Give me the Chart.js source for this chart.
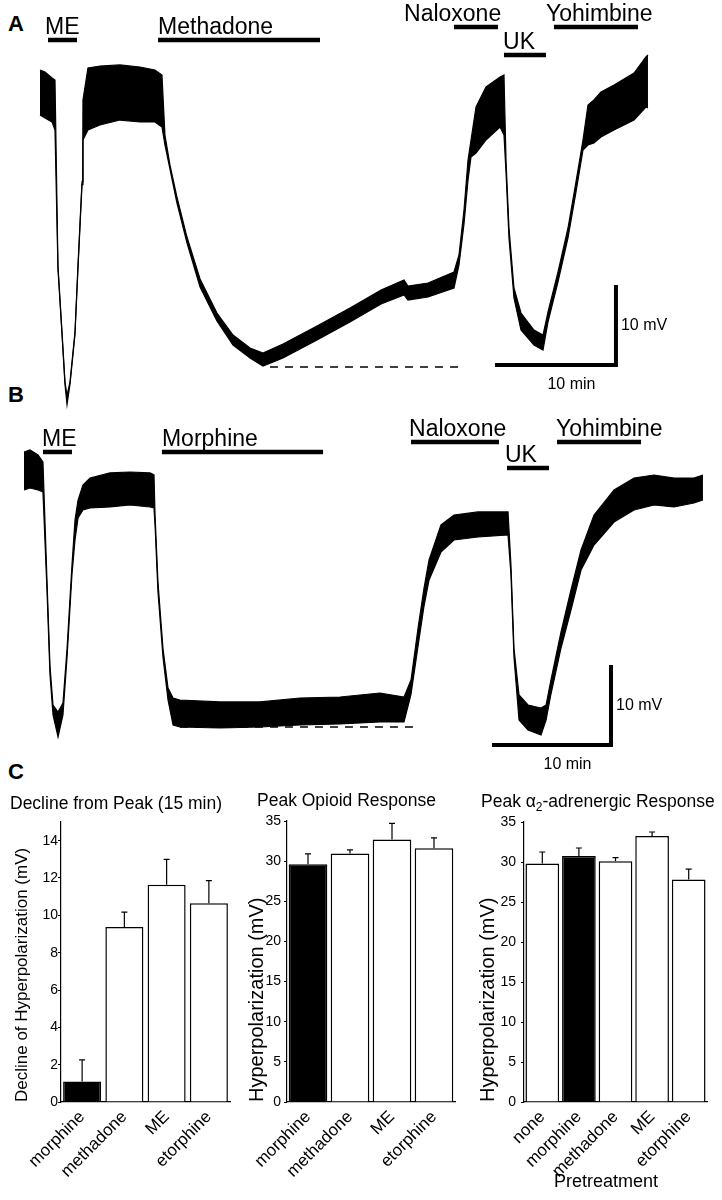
<!DOCTYPE html>
<html>
<head>
<meta charset="utf-8">
<title>Opioid and alpha2-adrenergic hyperpolarization</title>
<script src="https://cdn.jsdelivr.net/npm/chart.js@4.4.1/dist/chart.umd.min.js"></script>
<style>
  html, body { margin: 0; padding: 0; background: #fff; }
  body { position: relative; width: 722px; height: 1200px; overflow: hidden; }
  canvas { position: absolute; }
  .panel { position: absolute; left: 8px; font: bold 22px/22px "Liberation Sans", Arial, sans-serif; color: #000; }
</style>
</head>
<body>
<div class="panel" style="top:13px">A</div>
<div class="panel" style="top:384px">B</div>
<div class="panel" style="top:761px">C</div>
<canvas id="traceA" width="722" height="410" style="left:0;top:0"></canvas>
<canvas id="traceB" width="722" height="400" style="left:0;top:380px"></canvas>
<canvas id="declineChart" width="240" height="410" style="left:0;top:790px"></canvas>
<canvas id="opioidChart" width="230" height="410" style="left:240px;top:790px"></canvas>
<canvas id="alphaChart" width="252" height="410" style="left:470px;top:790px"></canvas>
<script>
// ---- A: methadone recording (time in min, membrane potential in mV relative to baseline)
// upper / lower edges of the noise band
const traceATime = [0, 0.42, 1.01, 1.26, 1.51, 1.85, 2.10, 2.27, 2.52, 2.94, 3.19, 3.53, 3.61, 4.03, 5.04,
  6.72, 8.40, 9.66, 10.25, 10.50, 10.92, 11.51, 12.35, 13.45, 14.87, 16.22, 17.65, 18.74, 20.42, 23.28,
  26.05, 28.66, 30.59, 30.92, 32.61, 34.79, 35.21, 35.63, 35.97, 36.22, 36.64, 37.48, 38.66, 38.99, 39.16,
  39.41, 39.83, 40.42, 41.51, 42.27, 42.69, 43.53, 44.37, 45.04, 45.63, 46.05, 46.55, 47.14, 48.24, 49.92,
  50.92, 51.09];
const traceAUpper = [3.21, 2.95, 2.18, 1.92, -21.9, -30.4, -36.8, -38.5, -36.8, -30.4, -21.9, -11.1, -0.64, 3.46, 3.72,
  3.85, 3.59, 3.21, 2.56, -5.13, -8.97, -13.08, -18.21, -23.59, -27.95, -30.77, -32.44, -33.08, -31.92, -29.62,
  -27.31, -25.00, -23.72, -24.49, -24.10, -22.69, -20.51, -14.74, -8.33, -5.77, -1.54, 1.03, 2.31, 2.56, -8.33,
  -17.05, -24.74, -27.95, -30.13, -30.77, -27.82, -22.69, -17.05, -11.15, -5.77, -1.28, -0.64, 0.38, 1.28, 2.82,
  4.87, 5.13];
const traceALower = [-2.56, -2.95, -3.46, -4.49, -22.3, -30.7, -37.1, -39.7, -37.1, -30.7, -22.3, -11.5, -5.77, -4.49, -3.85,
  -3.21, -3.46, -3.46, -4.10, -6.41, -9.49, -13.85, -18.97, -24.62, -28.97, -32.05, -33.72, -34.74, -33.72, -31.41,
  -29.10, -26.79, -25.64, -26.28, -25.90, -24.74, -21.79, -16.54, -10.90, -7.95, -7.44, -5.77, -4.10, -5.13, -9.87,
  -18.33, -26.03, -30.13, -32.05, -32.69, -29.10, -23.97, -18.33, -12.44, -7.05, -6.41, -6.15, -5.38, -4.49, -3.21,
  -1.54, -1.67];
const peakLineATime = [19.33, 35.71];
const peakLineAVolt = [-34.87, -34.87];
const drugNamesA = ['ME', 'Methadone', 'Naloxone', 'UK', 'Yohimbine'];
const drugStartA = [0.67, 9.92, 34.79, 38.99, 43.19];
const drugEndA = [3.11, 23.53, 38.49, 42.52, 50.25];
const drugLevelA = [7.05, 7.05, 8.72, 5.13, 8.72];
const drugLabelAtA = [0.42, 9.92, 30.59, 38.91, 42.52];
const scaleBarATime = [38.40, 48.40, 48.40];
const scaleBarAVolt = [-34.62, -34.62, -24.62];

// ---- B: morphine recording
const traceBTime = [0, 0.51, 1.20, 1.62, 1.97, 2.22, 2.48, 2.91, 3.33, 3.68, 4.10, 4.36, 4.62, 5.04,
  5.64, 7.35, 9.06, 10.77, 11.11, 11.20, 11.45, 11.88, 12.31, 12.74, 13.33, 16.75, 20.17, 23.59, 27.01,
  30.43, 32.48, 33.08, 33.68, 34.19, 34.62, 35.64, 36.75, 38.80, 41.37, 41.62, 41.88, 42.31, 43.08, 44.19,
  44.62, 45.04, 45.90, 46.75, 47.61, 48.72, 50.43, 52.14, 53.85, 55.56, 57.26, 58.03];
const traceBUpper = [2.31, 2.56, 1.92, 1.03, -14.4, -25.1, -30.13, -31.03, -29.87, -22.9, -12.2, -6.41, -3.85, -1.92,
  -1.03, -0.38, -0.26, -0.38, -0.64, -5.77, -14.4, -22.9, -27.95, -29.23, -29.49, -29.74, -29.74, -29.23, -29.10,
  -28.59, -29.10, -26.92, -20.26, -15.13, -11.54, -7.05, -5.77, -5.38, -5.38, -12.2, -22.9, -28.85, -30.13, -30.51,
  -30.13, -26.92, -20.77, -15.38, -10.26, -5.77, -2.56, -1.03, -0.64, -1.03, -1.03, -0.64];
const traceBLower = [-2.56, -2.31, -2.56, -2.82, -15.6, -26.2, -31.4, -34.23, -31.41, -24.0, -13.4, -8.97, -6.15, -5.13,
  -4.87, -4.74, -4.49, -4.74, -4.87, -7.05, -15.6, -24.0, -29.49, -32.69, -32.95, -33.08, -32.95, -32.69, -32.56,
  -32.31, -32.31, -28.72, -22.56, -17.44, -14.10, -10.51, -8.97, -8.59, -8.33, -13.4, -24.0, -32.05, -33.33, -33.97,
  -32.05, -28.72, -22.82, -17.95, -12.82, -9.62, -6.67, -5.13, -4.49, -4.74, -4.23, -3.85];
const peakLineBTime = [13.33, 33.42];
const peakLineBVolt = [-32.95, -32.95];
const drugNamesB = ['ME', 'Morphine', 'Naloxone', 'UK', 'Yohimbine'];
const drugStartB = [1.62, 11.79, 33.08, 41.28, 45.56];
const drugEndB = [4.10, 25.56, 40.60, 44.87, 52.74];
const drugLevelB = [2.31, 2.31, 3.59, 0.26, 3.59];
const drugLabelAtB = [1.54, 11.79, 32.91, 41.11, 45.47];
const scaleBarBTime = [40.17, 50.17, 50.17];
const scaleBarBVolt = [-35.26, -35.26, -25.26];

// ---- C: summary bars (mean and SEM, mV)
const declineLabels = ['morphine', 'methadone', 'ME', 'etorphine'];
const declineMeans = [1.1, 9.37, 11.64, 10.65];
const declineSem = [1.16, 0.8, 1.36, 1.21];
const opioidLabels = ['morphine', 'methadone', 'ME', 'etorphine'];
const opioidMeans = [29.6, 30.95, 32.7, 31.6];
const opioidSem = [1.3, 0.45, 2.0, 1.3];
const alphaLabels = ['none', 'morphine', 'methadone', 'ME', 'etorphine'];
const alphaMeans = [29.8, 30.75, 30.1, 33.25, 27.8];
const alphaSem = [1.45, 1.0, 0.45, 0.5, 1.3];

const FONT = '"Liberation Sans", Arial, Helvetica, sans-serif';
Chart.defaults.font.family = FONT;
Chart.defaults.color = '#000';

const pts = (xs, ys) => xs.map((x, i) => ({ x, y: ys[i] }));

// drug names, scale bar captions
const traceTextPlugin = {
  id: 'traceText',
  afterDraw(chart, args, o) {
    const { ctx, scales: { x, y } } = chart;
    ctx.save();
    ctx.fillStyle = '#000';
    ctx.font = '23px ' + FONT;
    ctx.textAlign = 'left';
    ctx.textBaseline = 'alphabetic';
    o.names.forEach((name, i) => {
      ctx.fillText(name, x.getPixelForValue(o.labelAt[i]), y.getPixelForValue(o.level[i]) - 6);
    });
    const bt = o.barT, bv = o.barV;
    ctx.font = '16px ' + FONT;
    ctx.textBaseline = 'middle';
    ctx.fillText('10 mV', x.getPixelForValue(bt[2]) + 5, y.getPixelForValue((bv[1] + bv[2]) / 2));
    ctx.textAlign = 'center';
    ctx.textBaseline = 'alphabetic';
    ctx.fillText('10 min', x.getPixelForValue((bt[0] + bt[1]) / 2) + 15, y.getPixelForValue(bv[0]) + 24);
    ctx.restore();
  }
};

function makeTrace(id, d) {
  const line = { borderColor: '#000', pointRadius: 0, fill: false, tension: 0 };
  const datasets = [
    { ...line, data: pts(d.time, d.upper), borderWidth: 1.2 },
    { ...line, data: pts(d.time, d.lower), borderWidth: 1.2, fill: '-1', backgroundColor: '#000' },
    { ...line, data: pts(d.peakT, d.peakV), borderWidth: 1.6, borderDash: [8, 7] },
    { ...line, data: pts(d.barT, d.barV), borderWidth: 4, borderJoinStyle: 'miter', borderCapStyle: 'square' }
  ];
  d.names.forEach((n, i) => {
    datasets.push({ ...line, data: pts([d.start[i], d.end[i]], [d.level[i], d.level[i]]), borderWidth: 4.5, borderCapStyle: 'butt' });
  });
  new Chart(document.getElementById(id), {
    type: 'line',
    data: { datasets },
    options: {
      animation: false, responsive: false, devicePixelRatio: 1,
      layout: { padding: 0 },
      plugins: {
        legend: { display: false }, tooltip: { enabled: false },
        traceText: { names: d.names, labelAt: d.labelAt, level: d.level, barT: d.barT, barV: d.barV }
      },
      scales: {
        x: { type: 'linear', display: false, min: d.xMin, max: d.xMax },
        y: { display: false, min: d.yMin, max: d.yMax }
      }
    },
    plugins: [traceTextPlugin]
  });
}

makeTrace('traceA', {
  time: traceATime, upper: traceAUpper, lower: traceALower,
  peakT: peakLineATime, peakV: peakLineAVolt, barT: scaleBarATime, barV: scaleBarAVolt,
  names: drugNamesA, start: drugStartA, end: drugEndA, level: drugLevelA, labelAt: drugLabelAtA,
  xMin: -3.361, xMax: 57.311, yMin: -40.385, yMax: 12.179
});
makeTrace('traceB', {
  time: traceBTime, upper: traceBUpper, lower: traceBLower,
  peakT: peakLineBTime, peakV: peakLineBVolt, barT: scaleBarBTime, barV: scaleBarBVolt,
  names: drugNamesB, start: drugStartB, end: drugEndB, level: drugLevelB, labelAt: drugLabelAtB,
  xMin: -2.051, xMax: 59.658, yMin: -39.744, yMax: 11.538
});

// SEM whiskers above each bar, plus titles
const barExtrasPlugin = {
  id: 'barExtras',
  afterDatasetsDraw(chart, args, o) {
    const ctx = chart.ctx;
    const y = chart.scales.y;
    const meta = chart.getDatasetMeta(0);
    const means = chart.data.datasets[0].data;
    ctx.save();
    ctx.strokeStyle = '#000';
    ctx.lineWidth = 1.2;
    meta.data.forEach((bar, i) => {
      const top = y.getPixelForValue(means[i] + o.sem[i]);
      ctx.beginPath();
      ctx.moveTo(bar.x, bar.y);
      ctx.lineTo(bar.x, top);
      ctx.moveTo(bar.x - 3, top);
      ctx.lineTo(bar.x + 3, top);
      ctx.stroke();
    });
    ctx.fillStyle = '#000';
    ctx.textBaseline = 'alphabetic';
    ctx.textAlign = 'left';
    ctx.font = '17.5px ' + FONT;
    let tx = o.titleX;
    o.title.forEach(part => {
      if (part.sub) {
        ctx.font = '12px ' + FONT;
        ctx.fillText(part.text, tx, o.titleY + 4);
        tx += ctx.measureText(part.text).width;
        ctx.font = '17.5px ' + FONT;
      } else {
        ctx.fillText(part.text, tx, o.titleY);
        tx += ctx.measureText(part.text).width;
      }
    });
    if (o.xTitle) {
      ctx.font = '18px ' + FONT;
      ctx.textAlign = 'center';
      ctx.fillText(o.xTitle, o.xTitleX, o.xTitleY);
    }
    ctx.restore();
  }
};

function makeBars(id, labels, means, sem, g) {
  const canvas = document.getElementById(id);
  new Chart(canvas, {
    type: 'bar',
    data: {
      labels,
      datasets: [{
        data: means,
        backgroundColor: labels.map(l => l === 'morphine' ? '#000' : '#fff'),
        borderColor: '#000',
        borderWidth: 1.5,
        categoryPercentage: 1,
        barPercentage: g.barPct
      }]
    },
    options: {
      animation: false, responsive: false, devicePixelRatio: 1,
      layout: { padding: { left: 0, top: g.top, right: canvas.width - g.right, bottom: 0 } },
      plugins: {
        legend: { display: false }, tooltip: { enabled: false },
        barExtras: { sem, title: g.title, titleX: g.titleX, titleY: g.titleY, xTitle: g.xTitle, xTitleX: g.xTitleX, xTitleY: g.xTitleY }
      },
      scales: {
        x: {
          grid: { display: false, drawTicks: false },
          border: { display: true, color: '#000', width: 1.2 },
          ticks: { font: { size: 17 }, color: '#000', minRotation: 45, maxRotation: 45, autoSkip: false, padding: 5 },
          afterFit(s) { s.height = canvas.height - g.bottom; }
        },
        y: {
          min: 0, max: g.yMax,
          grid: { drawOnChartArea: false, drawTicks: true, tickLength: 3, color: '#000' },
          border: { display: true, color: '#000', width: 1.2 },
          ticks: { stepSize: g.step, includeBounds: false, font: { size: 14 }, color: '#000', padding: g.tickPad },
          title: { display: true, text: g.yTitle, font: { size: g.yTitleSize }, color: '#000', align: 'start', padding: { top: g.yTitlePad, bottom: 0 } },
          afterFit(s) { s.width = g.left; }
        }
      }
    },
    plugins: [barExtrasPlugin]
  });
}

makeBars('declineChart', declineLabels, declineMeans, declineSem, {
  left: 61, right: 230, top: 32, bottom: 312, barPct: 0.9, yMax: 15, step: 2, tickPad: 0,
  yTitle: 'Decline of Hyperpolarization (mV)', yTitleSize: 17, yTitlePad: 12,
  title: [{ text: 'Decline from Peak (15 min)' }], titleX: 10, titleY: 19
});
makeBars('opioidChart', opioidLabels, opioidMeans, opioidSem, {
  left: 47, right: 215, top: 31, bottom: 312, barPct: 0.92, yMax: 35, step: 5, tickPad: 3,
  yTitle: 'Hyperpolarization (mV)', yTitleSize: 20, yTitlePad: 5,
  title: [{ text: 'Peak Opioid Response' }], titleX: 17, titleY: 16
});
makeBars('alphaChart', alphaLabels, alphaMeans, alphaSem, {
  left: 54, right: 237, top: 32, bottom: 312, barPct: 0.92, yMax: 35, step: 5, tickPad: 5,
  yTitle: 'Hyperpolarization (mV)', yTitleSize: 20, yTitlePad: 6,
  title: [{ text: 'Peak \u03b1' }, { text: '2', sub: true }, { text: '-adrenergic Response' }], titleX: 11, titleY: 17,
  xTitle: 'Pretreatment', xTitleX: 136, xTitleY: 397
});
</script>
</body>
</html>
